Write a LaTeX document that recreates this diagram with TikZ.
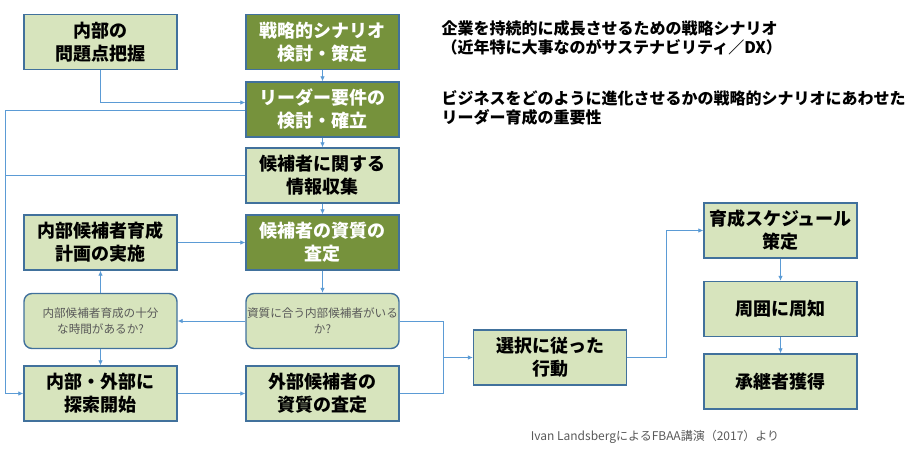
\documentclass[tikz,border=0pt]{standalone}
\usepackage{fontspec}
\setmainfont{Noto Sans CJK JP}
\usetikzlibrary{arrows.meta}
\definecolor{lightgreen}{RGB}{215,228,189}
\definecolor{olivegreen}{RGB}{118,146,60}
\definecolor{edgeblue}{RGB}{65,113,156}
\definecolor{linkblue}{RGB}{91,155,213}
\definecolor{notegray}{RGB}{89,89,89}
\begin{document}
\begin{tikzpicture}[x=1pt,y=-1pt,
	box/.style={draw=edgeblue, line width=1.4pt, fill=lightgreen, minimum width=153pt, minimum height=55pt,
		inner sep=0pt, align=center, font=\fontsize{18}{23}\selectfont\bfseries},
	keybox/.style={box, fill=olivegreen, text=white},
	askbox/.style={box, rounded corners=8pt, text=notegray, font=\fontsize{11.6}{15.5}\selectfont},
	link/.style={draw=linkblue, line width=0.8pt},
	arr/.style={link, -{Latex[length=5pt,width=4.5pt]}}]
	\useasboundingbox (0,0) rectangle (920,450);
	\node (N1) at (100.5,  42)	[box]		{内部の\\問題点把握};
	\node (S1) at (322.5,  42)	[keybox]	{戦略的シナリオ\\検討・策定};
	\node (S2) at (322.5, 109.5)	[keybox]	{リーダー要件の\\検討・確立};
	\node (S3) at (322.5, 175.5)	[box]		{候補者に関する\\情報収集};
	\node (E1) at (100.5, 242.5)	[box]		{内部候補者育成\\計画の実施};
	\node (S4) at (322.5, 242.5)	[keybox]	{候補者の資質の\\査定};
	\node (Q1) at (100.5, 321)	[askbox]	{内部候補者育成の十分\\な時間があるか?};
	\node (Q2) at (322.5, 321)	[askbox]	{資質に合う内部候補者がいる\\か?};
	\node (E2) at (100.5, 393.5)	[box]		{内部・外部に\\探索開始};
	\node (S5) at (322.5, 393.5)	[box]		{外部候補者の\\資質の査定};
	\node (A1) at (550, 357.5)	[box]		{選択に従った\\行動};
	\node (R1) at (780.5, 230.5)	[box]		{育成スケジュール\\策定};
	\node (R2) at (780.5, 309)	[box]		{周囲に周知};
	\node (R3) at (780.5, 381.5)	[box]		{承継者獲得};
	\node (T1) at (438, 38) [anchor=west, align=left, font=\fontsize{16}{19}\selectfont\bfseries]
		{企業を持続的に成長させるための戦略シナリオ\\（近年特に大事なのがサステナビリティ／DX）};
	\node (T2) at (438, 108) [anchor=west, align=left, font=\fontsize{16}{19}\selectfont\bfseries]
		{ビジネスをどのように進化させるかの戦略的シナリオにあわせた\\リーダー育成の重要性};
	\node (F1) at (655, 437) [text=notegray, font=\fontsize{12}{14}\selectfont]
		{Ivan LandsbergによるFBAA講演（2017）より};
	\coordinate (W) at (5, 393.5);
	\coordinate (M) at (443, 357.5);
	\coordinate (U) at (666, 230.5);
	\draw[arr] (N1) |- ([yshift=7pt]S2.west);
	\draw[arr] (S1) -- (S2);
	\draw[arr] (S2) -- (S3);
	\draw[arr] (S3) -- (S4);
	\draw[arr] (S4) -- (Q2);
	\draw[arr] ([yshift=-1pt]S2.west) -| (W) -- (E2.west);
	\draw[link] (S3.west) -- (S3.west -| W);
	\draw[arr] (E1) -- (S4);
	\draw[arr] (Q2) -- (Q1);
	\draw[arr] (Q1) -- (E1);
	\draw[arr] (Q1) -- (E2);
	\draw[arr] (E2) -- (S5);
	\draw[link] (Q2.east) -| (M);
	\draw[link] (S5.east) -| (M);
	\draw[arr] (M) -- (A1.west);
	\draw[arr] (A1.east) -| (U) -- (R1.west);
	\draw[arr] (R1) -- (R2);
	\draw[arr] (R2) -- (R3);
\end{tikzpicture}
\end{document}
